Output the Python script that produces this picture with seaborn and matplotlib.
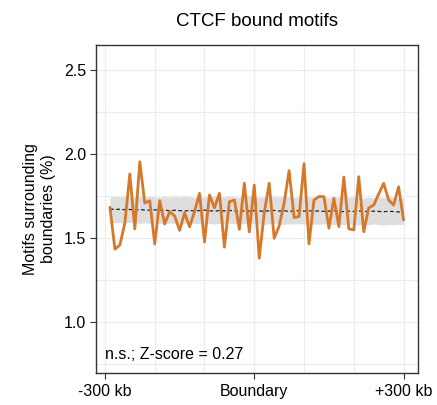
import numpy as np
import pandas as pd
import matplotlib
matplotlib.use("Agg")
import matplotlib.pyplot as plt
import seaborn as sns
from matplotlib.ticker import MultipleLocator

sns.set_theme(style="white")
plt.rcParams['font.family'] = ['Liberation Sans', 'DejaVu Sans']

# ---- data ----
positions_kb = list(range(-290, 301, 10))  # 60 bins
observed = [1.683, 1.433, 1.458, 1.589, 1.881, 1.554, 1.954, 1.708, 1.722, 1.464,
            1.722, 1.583, 1.657, 1.631, 1.545, 1.649, 1.567, 1.657, 1.766, 1.476,
            1.756, 1.679, 1.766, 1.445, 1.716, 1.726, 1.551, 1.826, 1.536, 1.815,
            1.379, 1.649, 1.826, 1.498, 1.571, 1.708, 1.901, 1.622, 1.627, 1.943,
            1.464, 1.726, 1.747, 1.746, 1.558, 1.736, 1.567, 1.863, 1.554, 1.548,
            1.865, 1.537, 1.679, 1.696, 1.762, 1.826, 1.726, 1.696, 1.805, 1.607]
expected = [1.672, 1.670, 1.671, 1.668, 1.670, 1.666, 1.669, 1.667, 1.665, 1.668,
            1.664, 1.666, 1.662, 1.665, 1.663, 1.660, 1.664, 1.661, 1.663, 1.666,
            1.662, 1.660, 1.663, 1.661, 1.664, 1.662, 1.659, 1.662, 1.660, 1.663,
            1.661, 1.659, 1.662, 1.664, 1.660, 1.662, 1.658, 1.661, 1.663, 1.660,
            1.662, 1.659, 1.661, 1.658, 1.660, 1.662, 1.659, 1.657, 1.660, 1.658,
            1.661, 1.659, 1.657, 1.660, 1.658, 1.656, 1.659, 1.657, 1.655, 1.656]
band_low = [1.595, 1.590, 1.592, 1.588, 1.593, 1.589, 1.586, 1.590, 1.587, 1.591,
            1.588, 1.585, 1.589, 1.586, 1.590, 1.587, 1.584, 1.588, 1.585, 1.589,
            1.586, 1.583, 1.587, 1.584, 1.588, 1.585, 1.582, 1.586, 1.583, 1.587,
            1.584, 1.581, 1.585, 1.588, 1.584, 1.581, 1.585, 1.582, 1.586, 1.583,
            1.580, 1.584, 1.581, 1.585, 1.582, 1.579, 1.583, 1.580, 1.584, 1.581,
            1.578, 1.582, 1.579, 1.583, 1.580, 1.577, 1.581, 1.578, 1.582, 1.580]
band_high = [1.742, 1.748, 1.745, 1.750, 1.746, 1.743, 1.748, 1.744, 1.749, 1.745,
             1.742, 1.747, 1.743, 1.748, 1.744, 1.750, 1.746, 1.742, 1.747, 1.743,
             1.748, 1.752, 1.747, 1.744, 1.749, 1.745, 1.741, 1.746, 1.750, 1.745,
             1.741, 1.746, 1.742, 1.747, 1.743, 1.748, 1.744, 1.740, 1.745, 1.741,
             1.746, 1.742, 1.747, 1.743, 1.739, 1.744, 1.740, 1.745, 1.741, 1.746,
             1.742, 1.738, 1.743, 1.739, 1.744, 1.740, 1.745, 1.741, 1.737, 1.740]
x_ticks = [-300, 0, 300]
x_ticklabels = ["-300 kb", "Boundary", "+300 kb"]
y_ticks = [1.0, 1.5, 2.0, 2.5]
title = "CTCF bound motifs"
ylabel = "Motifs surrounding\nboundaries (%)"
annotation = "n.s.; Z-score = 0.27"

df = pd.DataFrame({"pos": positions_kb, "obs": observed, "exp": expected,
                   "lo": band_low, "hi": band_high})

fig = plt.figure(figsize=(4.37, 4.05), dpi=100)
ax = fig.add_axes([96/437, 1-373/405, (418-96)/437, (373-45)/405])

ax.fill_between(df["pos"], df["lo"], df["hi"], color="#dedede", linewidth=0, zorder=1)
sns.lineplot(data=df, x="pos", y="exp", ax=ax, color="#222222", linewidth=0.9,
             linestyle=(0, (3, 2)), zorder=2)
sns.lineplot(data=df, x="pos", y="obs", ax=ax, color="#d6782a", linewidth=2.0, zorder=3)

ax.set_xlim(-318, 329)
ax.set_ylim(0.695, 2.65)
ax.set_xticks(x_ticks)
ax.set_xticklabels(x_ticklabels)
ax.set_yticks(y_ticks)
ax.set_yticklabels([f"{v:.1f}" for v in y_ticks])
ax.xaxis.set_minor_locator(MultipleLocator(100))
ax.yaxis.set_minor_locator(MultipleLocator(0.25))
ax.grid(True, which="both", color="#ececec", linewidth=0.8, zorder=0)
ax.set_axisbelow(True)

for s in ax.spines.values():
    s.set_visible(True)
    s.set_color("#333333")
    s.set_linewidth(1.0)

ax.tick_params(axis="both", which="major", direction="out", length=4.5, width=0.8,
               color="#333333", labelsize=11.5, labelcolor="black", pad=2.5,
               bottom=True, left=True)
ax.tick_params(axis="x", which="major", pad=3.5)
ax.tick_params(axis="both", which="minor", length=0)

ax.set_xlabel("")
ax.set_ylabel(ylabel, fontsize=11.5, color="black", labelpad=6, linespacing=1.2)
ax.set_title(title, fontsize=13.5, color="black", pad=14)
ax.text(0.028, 0.057, annotation, transform=ax.transAxes, fontsize=11.5,
        color="black", ha="left", va="center")

fig.savefig("out.png", dpi=100)
